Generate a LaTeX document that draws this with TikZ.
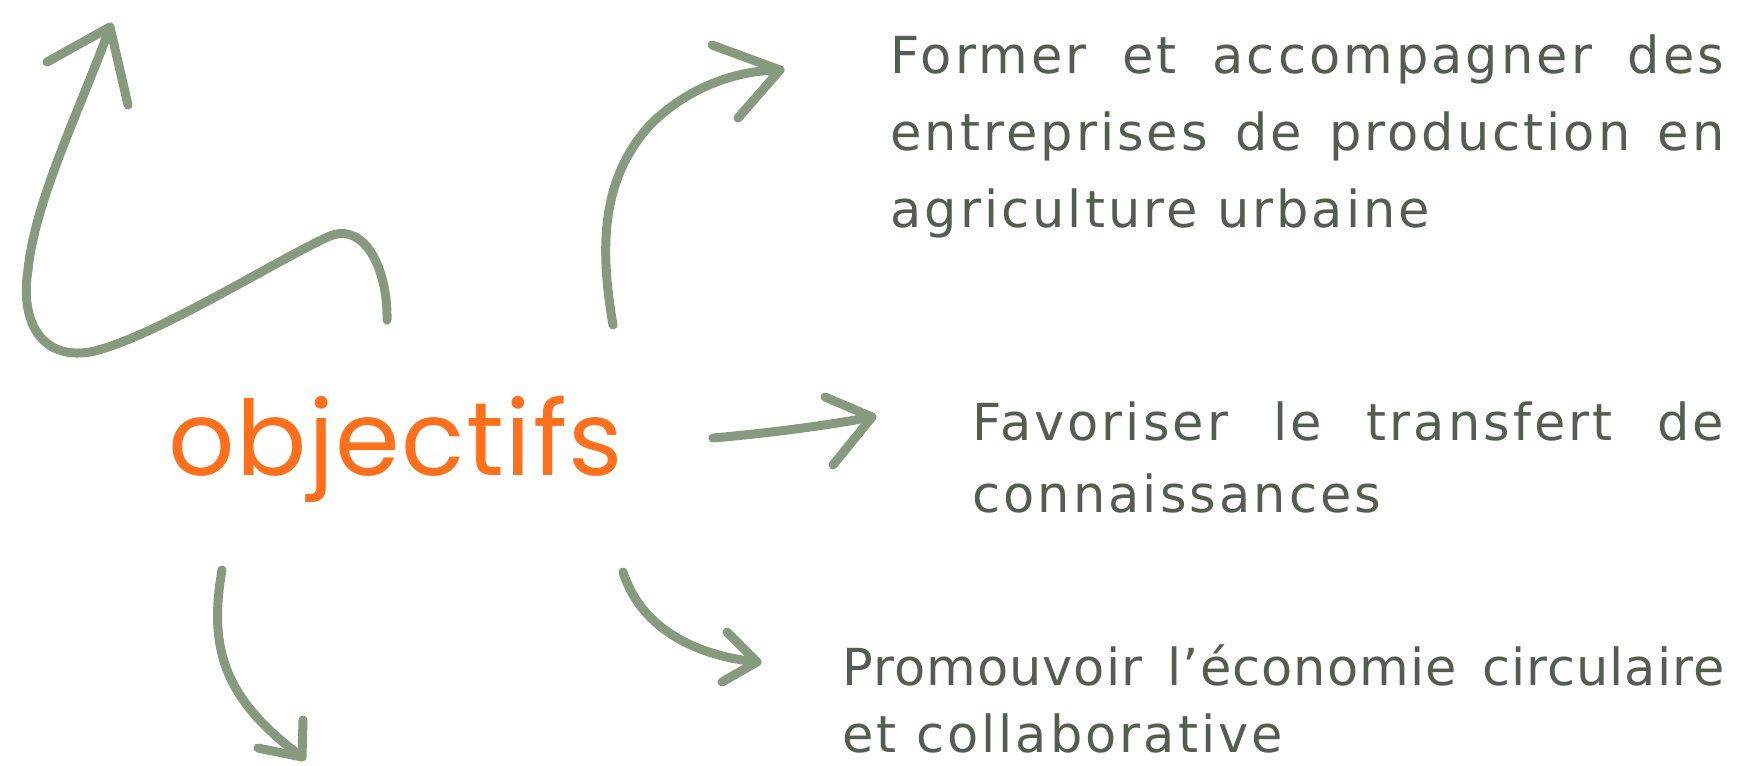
\documentclass[tikz,border=0pt]{standalone}
\usepackage{fontspec}
\setmainfont{DejaVu Sans}
\newfontfamily\handfont[LetterSpace=6]{DejaVu Sans}
\newfontfamily\handtight[LetterSpace=2]{DejaVu Sans}
\newfontfamily\objfont[LetterSpace=1.5]{Poppins}
\definecolor{arrowgreen}{HTML}{87997F}
\definecolor{textgray}{HTML}{545E50}
\definecolor{objorange}{HTML}{FF6F1C}
\tikzset{
  sketch/.style={draw=arrowgreen, line width=4.5pt, line cap=round, line join=round},
  goal/.style={anchor=north west, inner sep=0pt, align=left, text=textgray},
  title/.style={anchor=base west, inner sep=0pt, text=objorange, font=\objfont\fontsize{52}{55}\selectfont}
}
\begin{document}
\begin{tikzpicture}[x=0.5pt,y=-0.5pt]
\useasboundingbox (0,0) rectangle (1738,765);
% central word
\node[title] (obj) at (168,475) {objectifs};
% goals
\node[goal, font=\handfont\fontsize{25.5}{38.7}\selectfont] (g1) at (890,34) {\makebox[417pt][s]{Former et accompagner des}\\ \makebox[417pt][s]{entreprises de production en}\\ agriculture urbaine};
\node[goal, font=\handfont\fontsize{25.5}{36}\selectfont] (g2) at (972,401) {\makebox[376pt][s]{Favoriser le transfert de}\\ connaissances};
\node[goal, font=\handfont\fontsize{25.5}{33.5}\selectfont] (g3) at (842,644) {\makebox[441pt][s]{\handtight Promouvoir l’économie circulaire}\\ et collaborative};
% arrow 1 (free, upper left)
\coordinate (a1s) at (387,320);
\coordinate (a1t) at (110,27);
\draw[sketch] (a1s) .. controls (388,270) and (365,222) .. (330,236)
  .. controls (280,258) and (150,340) .. (90,352)
  .. controls (40,360) and (20,320) .. (28,270)
  .. controls (35,200) and (80,110) .. (a1t);
\draw[sketch] (47,62) -- (a1t) -- (128,105);
% arrow 2 -> g1
\coordinate (a2s) at (613,325);
\coordinate (a2t) at (780,70);
\draw[sketch] (a2s) .. controls (600,250) and (600,180) .. (650,125)
  .. controls (690,85) and (740,70) .. (a2t);
\draw[sketch] (712,45) -- (a2t) -- (738,118);
% arrow 3 -> g2
\coordinate (a3s) at (713,438);
\coordinate (a3t) at (872,417);
\draw[sketch] (a3s) .. controls (770,433) and (830,425) .. (a3t);
\draw[sketch] (825,397) -- (a3t) -- (833,465);
% arrow 4 (free, downward)
\coordinate (a4s) at (222,570);
\coordinate (a4t) at (302,757);
\draw[sketch] (a4s) .. controls (208,650) and (225,700) .. (a4t);
\draw[sketch] (258,748) -- (a4t) -- (303,720);
% arrow 5 -> g3
\coordinate (a5s) at (623,572);
\coordinate (a5t) at (757,662);
\draw[sketch] (a5s) .. controls (640,625) and (690,655) .. (a5t);
\draw[sketch] (727,632) -- (a5t) -- (722,682);
\end{tikzpicture}
\end{document}
